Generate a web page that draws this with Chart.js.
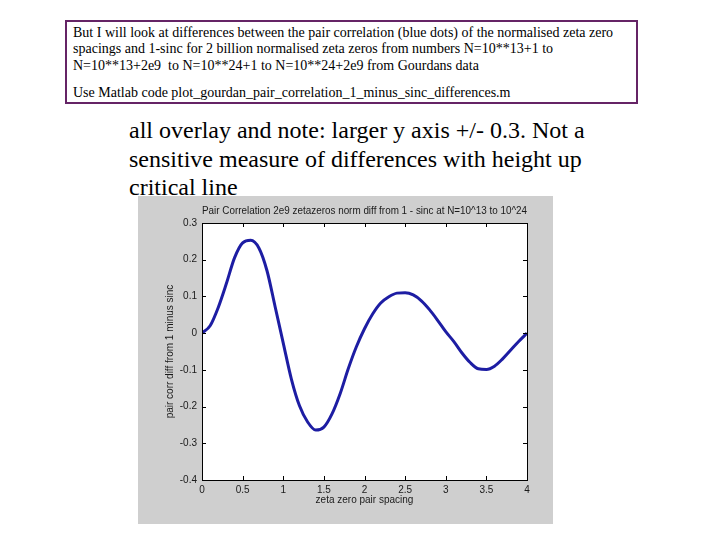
<!DOCTYPE html>
<html>
<head>
<meta charset="utf-8">
<script src="https://cdn.jsdelivr.net/npm/chart.js@4"></script>
<style>
    body { margin: 0; width: 720px; height: 540px; background: #fff; position: relative; overflow: hidden; }
    .box {
        position: absolute; left: 65px; top: 20px; width: 569px; height: 80px;
        border: 2px solid #652466; font-family: "Liberation Serif", serif; font-size: 14px; color: #000;
    }
    .box div { position: absolute; left: 6px; white-space: nowrap; }
    .note {
        position: absolute; left: 129px; top: 116px; white-space: nowrap;
        font-family: "Liberation Serif", serif; font-size: 24px; line-height: 28.5px; color: #000;
    }
    #wrap { position: absolute; left: 138px; top: 196px; width: 415px; height: 328px; background: #cfcfcf; }
</style>
</head>
<body>
<div class="box">
    <div style="top:3px">But I will look at differences between the pair correlation (blue dots) of the normalised zeta zero</div>
    <div style="top:19px">spacings and 1-sinc for 2 billion normalised zeta zeros from numbers N=10**13+1 to</div>
    <div style="top:36px">N=10**13+2e9&nbsp; to N=10**24+1 to N=10**24+2e9 from Gourdans data</div>
    <div style="top:63px">Use Matlab code plot_gourdan_pair_correlation_1_minus_sinc_differences.m</div>
</div>
<div class="note">all overlay and note: larger y axis +/- 0.3. Not a<br>sensitive measure of differences with height up<br>critical line</div>
<div id="wrap"><canvas id="pairChart" width="415" height="328"></canvas></div>
<script>
// pair spacing (x) and difference from 1 - sinc (y)
const spacing = [0, 0.1, 0.2, 0.3, 0.4, 0.5, 0.6, 0.7, 0.8, 0.9,
                 1.0, 1.1, 1.2, 1.3, 1.4, 1.5, 1.6, 1.7, 1.8, 1.9,
                 2.0, 2.1, 2.2, 2.3, 2.4, 2.5, 2.6, 2.7, 2.8, 2.9,
                 3.0, 3.1, 3.2, 3.3, 3.4, 3.5, 3.6, 3.7, 3.8, 3.9, 4.0];
const diffValues = [0.0, 0.02, 0.07, 0.135, 0.205, 0.246, 0.253, 0.232, 0.17, 0.072,
                    -0.027, -0.125, -0.198, -0.242, -0.264, -0.256, -0.22, -0.165, -0.097, -0.037,
                    0.012, 0.052, 0.082, 0.099, 0.109, 0.11, 0.104, 0.088, 0.064, 0.035,
                    0.004, -0.023, -0.054, -0.08, -0.097, -0.099, -0.09, -0.07, -0.046, -0.022, 0.0];
const xTicks = [0, 0.5, 1, 1.5, 2, 2.5, 3, 3.5, 4];
const yTicks = [-0.4, -0.3, -0.2, -0.1, 0, 0.1, 0.2, 0.3];

const points = spacing.map((x, i) => ({ x: x, y: diffValues[i] }));
const fontSmall = { family: 'Arial, "Liberation Sans", sans-serif', size: 10, weight: 'normal' };

// white axes area, black frame and inward ticks on all four sides (Matlab look)
const matlabAxes = {
    id: 'matlabAxes',
    beforeDatasetsDraw(chart) {
        const a = chart.chartArea;
        const ctx = chart.ctx;
        ctx.save();
        ctx.fillStyle = '#ffffff';
        ctx.fillRect(a.left, a.top, a.right - a.left, a.bottom - a.top);
        ctx.restore();
    },
    afterDatasetsDraw(chart) {
        const a = chart.chartArea;
        const ctx = chart.ctx;
        const xs = chart.scales.x, ys = chart.scales.y;
        ctx.save();
        ctx.strokeStyle = '#000';
        ctx.lineWidth = 1;
        ctx.strokeRect(Math.round(a.left) + 0.5, Math.round(a.top) + 0.5,
            Math.round(a.right - a.left), Math.round(a.bottom - a.top));
        ctx.beginPath();
        xTicks.forEach(v => {
            const px = Math.round(xs.getPixelForValue(v)) + 0.5;
            ctx.moveTo(px, a.bottom); ctx.lineTo(px, a.bottom - 4);
            ctx.moveTo(px, a.top); ctx.lineTo(px, a.top + 4);
        });
        yTicks.forEach(v => {
            const py = Math.round(ys.getPixelForValue(v)) + 0.5;
            ctx.moveTo(a.left, py); ctx.lineTo(a.left + 4, py);
            ctx.moveTo(a.right, py); ctx.lineTo(a.right - 4, py);
        });
        ctx.stroke();
        ctx.restore();
    }
};

new Chart(document.getElementById('pairChart'), {
    type: 'line',
    data: {
        datasets: [{
            label: 'pair corr diff',
            data: points,
            borderColor: '#1d1da3',
            borderWidth: 3,
            pointRadius: 0,
            cubicInterpolationMode: 'monotone',
            fill: false
        }]
    },
    options: {
        responsive: false,
        animation: false,
        layout: { padding: { left: 0, right: 26, top: 0, bottom: 0 } },
        plugins: {
            legend: { display: false },
            tooltip: { enabled: false },
            title: {
                display: true,
                fullSize: false,
                text: 'Pair Correlation 2e9 zetazeros norm diff from 1 - sinc at N=10^13 to 10^24',
                color: '#1a1a1a',
                font: fontSmall,
                padding: { top: 9, bottom: 6 }
            }
        },
        scales: {
            x: {
                type: 'linear',
                min: 0, max: 4,
                afterBuildTicks: s => { s.ticks = xTicks.map(v => ({ value: v })); },
                afterFit: s => { s.height = 44; },
                grid: { display: false, drawTicks: false },
                border: { display: false },
                ticks: { color: '#1a1a1a', font: fontSmall, padding: 4, maxRotation: 0,
                         callback: v => String(v) },
                title: { display: true, text: 'zeta zero pair spacing', color: '#1a1a1a',
                         font: fontSmall, padding: { top: 0, bottom: 18 } }
            },
            y: {
                type: 'linear',
                min: -0.4, max: 0.3,
                afterBuildTicks: s => { s.ticks = yTicks.map(v => ({ value: v })); },
                afterFit: s => { s.width = 64; },
                grid: { display: false, drawTicks: false },
                border: { display: false },
                ticks: { color: '#1a1a1a', font: fontSmall, padding: 5,
                         callback: v => String(Math.round(v * 10) / 10) },
                title: { display: true, text: 'pair corr diff from 1 minus sinc', color: '#1a1a1a',
                         font: fontSmall, padding: { top: 26, bottom: 0 } }
            }
        }
    },
    plugins: [matlabAxes]
});
</script>
</body>
</html>
